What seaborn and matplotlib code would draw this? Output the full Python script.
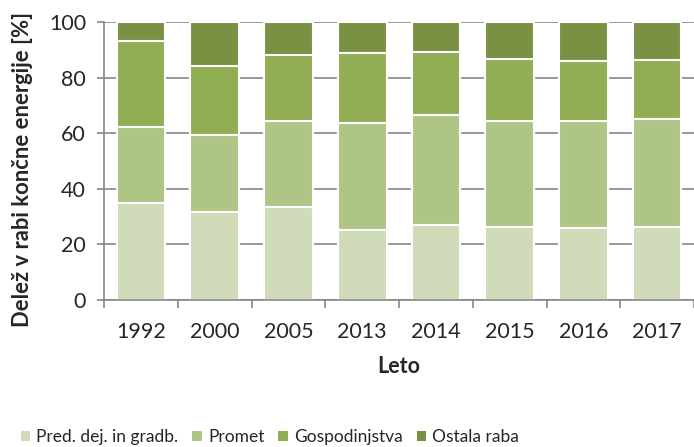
import numpy as np
import pandas as pd
import matplotlib
matplotlib.use("Agg")
import matplotlib.pyplot as plt
import seaborn as sns
from matplotlib.patches import Patch

years = ["1992", "2000", "2005", "2013", "2014", "2015", "2016", "2017"]
series_names = ["Pred. dej. in gradb.", "Promet", "Gospodinjstva", "Ostala raba"]
pred = [34.8, 31.5, 33.5, 25.0, 27.0, 26.4, 25.7, 26.4]
promet = [27.3, 27.7, 30.7, 38.6, 39.5, 37.8, 38.5, 38.7]
gosp = [30.9, 25.1, 23.8, 25.1, 22.7, 22.5, 21.6, 21.3]
ostala = [7.0, 15.7, 12.0, 11.3, 10.8, 13.3, 14.2, 13.6]
colors = ["#CFDBB9", "#AEC585", "#92AE55", "#7A9144"]

sns.set_theme(style="white")
plt.rcParams["font.family"] = ["Lato", "DejaVu Sans"]

df = pd.DataFrame({"Leto": years, series_names[0]: pred, series_names[1]: promet,
                   series_names[2]: gosp, series_names[3]: ostala})
cum = df[series_names].cumsum(axis=1)

fig = plt.figure(figsize=(6.94, 4.47), dpi=100)
ax = fig.add_axes([0.150, 0.329, 0.850, 0.622])

grid_c = "#868686"
ax.set_axisbelow(True)
ax.yaxis.grid(True, color=grid_c, linewidth=1.2)

for name, c in reversed(list(zip(series_names, colors))):
    sns.barplot(x=df["Leto"], y=cum[name], color=c, width=0.66, edgecolor="white",
                linewidth=1.5, ax=ax, saturation=1)

ax.set_ylim(0, 100)
ax.set_xlim(-0.5, 7.42)
ax.set_yticks(np.arange(0, 101, 20))
ax.tick_params(axis="y", which="major", length=5, color=grid_c, width=1.2, direction="out",
               labelsize=15.5, left=True, pad=8)
ax.set_xticks(range(len(years)))
ax.set_xticklabels(years)
ax.tick_params(axis="x", which="major", length=0, labelsize=15.5, pad=16)
ax.set_xticks(np.arange(-0.5, 8, 1), minor=True)
ax.tick_params(axis="x", which="minor", length=6, color=grid_c, width=1.2, bottom=True)

for s in ["top", "right"]:
    ax.spines[s].set_visible(False)
for s in ["left", "bottom"]:
    ax.spines[s].set_color(grid_c)
    ax.spines[s].set_linewidth(1.2)

ax.set_xlabel("Leto", fontsize=15.5, fontweight="bold", labelpad=10)
ax.set_ylabel("Delež v rabi končne energije [%]", fontsize=15.8, fontweight="bold")
ax.yaxis.set_label_coords((22 - 104) / (0.850 * 694), 0.47)
ax.yaxis.label.set_va("center")

handles = [Patch(facecolor=c, edgecolor="none") for c in colors]
fig.legend(handles, series_names, loc="center", bbox_to_anchor=(270 / 694, 1 - 437 / 447),
           bbox_transform=fig.transFigure,
           ncol=4, frameon=False, fontsize=12.5, handlelength=0.55, handleheight=0.55,
           handletextpad=0.35, columnspacing=0.8, borderpad=0, borderaxespad=0)

fig.savefig("out.png", dpi=100)
